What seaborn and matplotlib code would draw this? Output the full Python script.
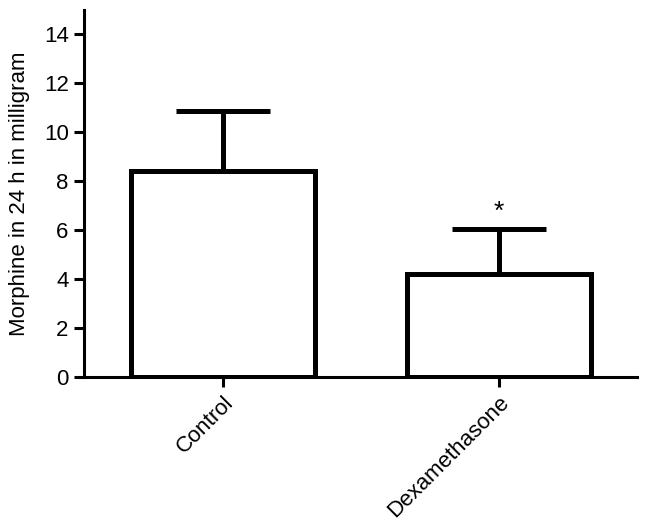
import matplotlib
matplotlib.use("Agg")
import matplotlib.pyplot as plt
import seaborn as sns
import pandas as pd

groups = ["Control", "Dexamethasone"]
means = [8.42, 4.22]
sds = [2.44, 1.82]
annotations = ["", "*"]

sns.set_style("white")
plt.rcParams["font.family"] = ["Liberation Sans", "DejaVu Sans"]
plt.rcParams["text.color"] = "black"
plt.rcParams["axes.labelcolor"] = "black"
plt.rcParams["xtick.color"] = "black"
plt.rcParams["ytick.color"] = "black"

df = pd.DataFrame({"group": groups, "mean": means})

fig = plt.figure(figsize=(6.47, 5.30), dpi=100)
ax = fig.add_axes([0.1298, 0.2887, 0.8547, 0.6924])

sns.barplot(data=df, x="group", y="mean", ax=ax, color="white",
            edgecolor="black", linewidth=3.6, width=0.667, errorbar=None,
            saturation=1)
for p in ax.patches:
    p.set_zorder(3)

ax.errorbar(range(len(groups)), means, yerr=[[0] * len(sds), sds], fmt="none",
            ecolor="black", elinewidth=3.6, capsize=34, capthick=3.6,
            zorder=2)

for i, (m, s, a) in enumerate(zip(means, sds, annotations)):
    if a:
        ax.text(i, m + s + 0.2, a, ha="center", va="bottom", fontsize=19,
                color="black")

ax.set_xlim(-0.504, 1.5)
ax.set_ylim(0, 15)
ax.set_yticks([0, 2, 4, 6, 8, 10, 12, 14])
sns.despine(ax=ax)
for side in ["left", "bottom"]:
    ax.spines[side].set_linewidth(2.2)
    ax.spines[side].set_color("black")

ax.tick_params(axis="both", which="major", length=7, width=2.2, color="black",
               labelcolor="black", labelsize=16, pad=4, left=True,
               bottom=True, direction="out")
ax.set_xticks(range(len(groups)))
ax.set_xticklabels(groups, rotation=45, ha="right", rotation_mode="anchor")
ax.set_xlabel("")
ax.set_ylabel("Morphine in 24 h in milligram", fontsize=16, labelpad=10,
              color="black")

fig.savefig("out.png", dpi=100)
